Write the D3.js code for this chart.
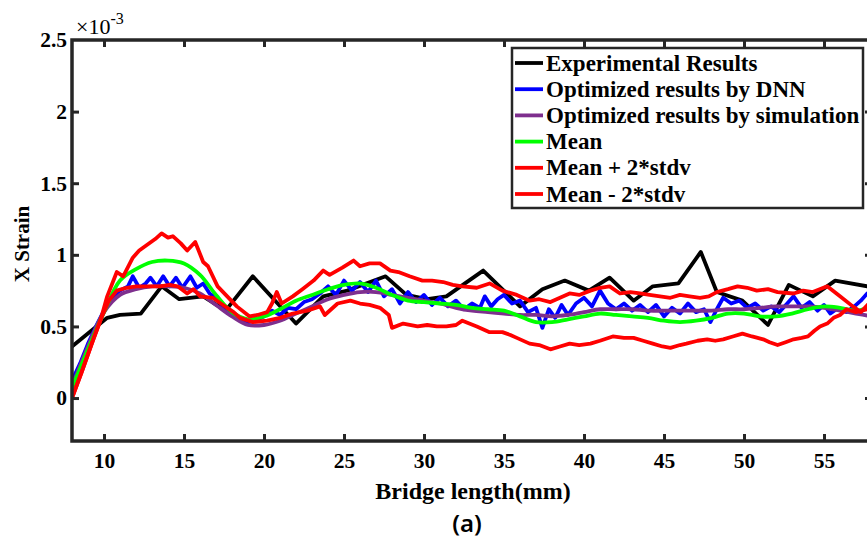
<!DOCTYPE html>
<html>
<head>
<meta charset="utf-8">
<script src="https://cdn.jsdelivr.net/npm/d3@7"></script>
<style>
  html, body { margin: 0; padding: 0; background: #fff; }
  svg { display: block; }
  text { font-family: "Liberation Serif", "Times New Roman", serif; font-weight: bold; fill: #000; }
</style>
</head>
<body>
<svg id="chart" width="867" height="538"></svg>
<script>
// ---- data (strain values in units of 1e-3, position in mm) ----
const xTicks = [10, 15, 20, 25, 30, 35, 40, 45, 50, 55];
const yTicks = [0, 0.5, 1, 1.5, 2, 2.5];
const yTickLabels = ["0", "0.5", "1", "1.5", "2", "2.5"];

const seriesNames = [
  "Experimental Results",
  "Optimized results by DNN",
  "Optimized results by simulation",
  "Mean",
  "Mean + 2*stdv",
  "Mean - 2*stdv"
];
const seriesColors = ["#000000", "#0000ff", "#7e2f8e", "#00ff00", "#ff0000", "#ff0000"];

const expX = [8, 10.2, 11, 12.3, 13.6, 14.7, 16.2, 17.6, 19.3, 22.0, 23.7, 25.2, 27.6, 28.9, 30.2, 31.4, 33.7,
  36.0, 37.4, 38.8, 40.3, 41.6, 43.1, 44.3, 45.9, 47.3, 48.3, 49.9, 51.5, 52.8, 54.3, 55.7, 57.7, 58];
const expStrain = [0.36, 0.56, 0.58, 0.59, 0.78, 0.69, 0.71, 0.61, 0.85, 0.52, 0.71, 0.75, 0.85, 0.72, 0.69, 0.71, 0.89,
  0.64, 0.76, 0.82, 0.75, 0.84, 0.68, 0.78, 0.80, 1.02, 0.74, 0.68, 0.51, 0.79, 0.71, 0.82, 0.78, 0.77];

const dnnX = [8, 8.5, 9, 9.5, 10, 10.5, 11, 11.5, 11.8, 12.2, 12.6, 12.9, 13.3, 13.7, 14.1, 14.5, 14.9, 15.4, 15.8,
  16.2, 16.6, 17.0, 17.5, 18.0, 18.5, 19.0, 19.5, 20.0, 20.5, 21.0, 21.5, 22.0, 22.5, 23.0, 23.5, 24.0, 24.5,
  25.0, 25.5, 26.0, 26.5, 27.0, 27.5, 28.0, 28.5, 29.0, 29.5, 30.0, 30.5, 31.0, 31.5, 32.0, 32.5, 33.0, 33.5,
  33.8, 34.2, 34.6, 35.0, 35.5, 36.0, 36.5, 37.0, 37.4, 37.8, 38.2, 38.6, 39.0, 39.5, 40.0, 40.5, 41.0, 41.5,
  42.0, 42.5, 43.0, 43.5, 44.0, 44.5, 45.0, 45.5, 46.0, 46.5, 47.0, 47.5, 47.9, 48.3, 48.7, 49.2, 49.7, 50.2,
  50.7, 51.2, 51.7, 52.2, 52.7, 53.1, 53.6, 54.1, 54.6, 55.0, 55.4, 55.9, 56.4, 56.9, 57.3, 57.7, 58.0];
const dnnStrain = [0.12, 0.24, 0.38, 0.50, 0.61, 0.70, 0.75, 0.78, 0.85, 0.77, 0.80, 0.84, 0.78, 0.85, 0.78, 0.84, 0.77, 0.85, 0.77,
  0.80, 0.73, 0.70, 0.63, 0.58, 0.55, 0.53, 0.54, 0.57, 0.61, 0.58, 0.63, 0.62, 0.67, 0.69, 0.73, 0.78, 0.72,
  0.82, 0.75, 0.81, 0.74, 0.82, 0.71, 0.76, 0.66, 0.74, 0.67, 0.72, 0.65, 0.70, 0.64, 0.68, 0.62, 0.66, 0.63,
  0.71, 0.64, 0.69, 0.72, 0.66, 0.68, 0.60, 0.63, 0.49, 0.62, 0.56, 0.65, 0.58, 0.66, 0.70, 0.64, 0.75, 0.66,
  0.62, 0.66, 0.61, 0.65, 0.60, 0.65, 0.57, 0.63, 0.59, 0.66, 0.60, 0.62, 0.53, 0.62, 0.70, 0.66, 0.68, 0.63,
  0.66, 0.61, 0.64, 0.60, 0.66, 0.71, 0.63, 0.67, 0.61, 0.65, 0.59, 0.63, 0.60, 0.64, 0.68, 0.73, 0.70];

const gridX = [8, 9, 10, 11, 12, 13, 14, 15, 16, 17, 18, 19, 20, 21, 22, 23, 24, 25, 26, 27, 28, 29, 30, 31, 32, 33,
  34, 35, 36, 37, 38, 39, 40, 41, 42, 43, 44, 45, 46, 47, 48, 49, 50, 51, 52, 53, 54, 55, 56, 57, 58];
const simStrain = [0.08, 0.36, 0.60, 0.72, 0.76, 0.78, 0.78, 0.77, 0.73, 0.65, 0.57, 0.51, 0.51, 0.54, 0.59, 0.64, 0.69,
  0.72, 0.74, 0.74, 0.72, 0.70, 0.68, 0.66, 0.63, 0.61, 0.60, 0.59, 0.58, 0.58, 0.57, 0.58, 0.60, 0.62, 0.62,
  0.62, 0.61, 0.61, 0.61, 0.61, 0.61, 0.62, 0.62, 0.63, 0.64, 0.64, 0.64, 0.63, 0.61, 0.59, 0.57];
const meanStrain = [0.07, 0.34, 0.60, 0.82, 0.90, 0.95, 0.96, 0.94, 0.86, 0.72, 0.60, 0.55, 0.57, 0.62, 0.68, 0.72, 0.76,
  0.79, 0.80, 0.77, 0.72, 0.68, 0.67, 0.66, 0.65, 0.63, 0.62, 0.61, 0.57, 0.53, 0.53, 0.55, 0.57, 0.59, 0.58,
  0.57, 0.56, 0.54, 0.53, 0.54, 0.56, 0.59, 0.59, 0.57, 0.57, 0.59, 0.62, 0.64, 0.63, 0.61, 0.64];

const upperX = [8, 8.6, 9.3, 9.8, 10.2, 10.8, 11.2, 11.8, 12.2, 12.7, 13.2, 13.6, 14.0, 14.3, 14.8, 15.2, 15.7, 16.2,
  16.5, 17.1, 17.7, 18.3, 19.1, 19.6, 20.2, 20.5, 20.8, 21.1, 21.8, 22.4, 23.1, 23.7, 24.1, 24.9, 25.6, 26.0,
  26.6, 27.25, 27.9, 28.4, 29.1, 29.9, 30.5, 31.2, 31.8, 32.4, 33.3, 34.1, 34.9, 35.8, 36.6, 37.2, 37.9, 38.5,
  39.1, 39.7, 40.4, 41.0, 41.6, 42.25, 42.9, 43.5, 44.1, 44.75, 45.4, 46.0, 46.6, 47.25, 47.8, 48.3, 49.0,
  49.6, 50.2, 50.8, 51.5, 52.1, 53.1, 53.7, 54.3, 55.2, 56.0, 56.8, 57.3, 57.8, 58];
const upperStrain = [0, 0.18, 0.40, 0.55, 0.71, 0.88, 0.85, 0.98, 1.03, 1.07, 1.11, 1.15, 1.12, 1.13, 1.08, 1.03, 1.09, 0.95,
  0.92, 0.78, 0.71, 0.64, 0.57, 0.58, 0.60, 0.66, 0.74, 0.66, 0.71, 0.76, 0.82, 0.89, 0.86, 0.91, 0.96, 0.92,
  0.94, 0.94, 0.89, 0.88, 0.85, 0.82, 0.82, 0.81, 0.79, 0.78, 0.77, 0.80, 0.75, 0.72, 0.68, 0.69, 0.67, 0.70,
  0.73, 0.72, 0.75, 0.77, 0.78, 0.73, 0.74, 0.73, 0.72, 0.71, 0.70, 0.72, 0.71, 0.70, 0.71, 0.74, 0.76,
  0.78, 0.77, 0.75, 0.76, 0.74, 0.73, 0.75, 0.74, 0.78, 0.71, 0.64, 0.60, 0.66, 0.68];

const lowerX = [8, 8.6, 9.3, 9.8, 10.3, 10.8, 11.4, 12.0, 12.8, 13.5, 14.1, 14.6, 15.2, 15.6, 16.0, 16.8, 17.3, 17.7,
  18.1, 18.5, 19.3, 20.2, 21.0, 21.8, 22.7, 23.5, 23.8, 24.6, 25.4, 26.0, 26.6, 27.25, 27.8, 28.0, 28.7, 29.6,
  30.2, 30.8, 31.4, 32.0, 32.4, 33.3, 34.1, 34.9, 35.4, 35.8, 36.6, 37.2, 37.9, 38.5, 39.1, 39.7, 40.4, 41.0,
  41.8, 42.5, 43.1, 43.7, 44.3, 44.9, 45.4, 46.0, 46.4, 47.1, 47.7, 48.2, 48.7, 49.3, 49.9, 50.5, 51.2, 51.6,
  52.1, 52.6, 53.1, 53.6, 54.0, 54.4, 54.75, 55.2, 55.6, 56.0, 56.4, 57.0, 57.7, 58];
const lowerStrain = [0, 0.18, 0.40, 0.55, 0.68, 0.75, 0.77, 0.78, 0.78, 0.78, 0.79, 0.78, 0.73, 0.76, 0.71, 0.70, 0.66, 0.63,
  0.60, 0.56, 0.53, 0.54, 0.56, 0.59, 0.61, 0.64, 0.58, 0.66, 0.68, 0.66, 0.65, 0.63, 0.58, 0.49, 0.52, 0.50,
  0.51, 0.50, 0.50, 0.51, 0.54, 0.50, 0.46, 0.46, 0.44, 0.42, 0.38, 0.37, 0.34, 0.36, 0.38, 0.37, 0.38, 0.40,
  0.43, 0.42, 0.42, 0.40, 0.38, 0.36, 0.35, 0.37, 0.38, 0.40, 0.41, 0.40, 0.41, 0.43, 0.45, 0.43, 0.41, 0.39,
  0.37, 0.39, 0.41, 0.42, 0.43, 0.47, 0.50, 0.52, 0.56, 0.58, 0.62, 0.60, 0.62, 0.64];

// ---- layout ----
const svg = d3.select("#chart");
const x = d3.scaleLinear().domain([8, 58]).range([72, 872]);
const y = d3.scaleLinear().domain([-0.3, 2.5]).range([441, 40]);
const axisColor = "#262626";
const serif = '"Liberation Serif", "Times New Roman", serif';

svg.append("defs").append("clipPath").attr("id", "plot-clip")
  .append("rect").attr("x", 72).attr("y", 40).attr("width", 800).attr("height", 401);

// ---- series lines (drawn in legend order) ----
const series = [
  { xs: expX, ys: expStrain, curve: d3.curveLinear },
  { xs: dnnX, ys: dnnStrain, curve: d3.curveLinear },
  { xs: gridX, ys: simStrain, curve: d3.curveCatmullRom },
  { xs: gridX, ys: meanStrain, curve: d3.curveCatmullRom },
  { xs: upperX, ys: upperStrain, curve: d3.curveLinear },
  { xs: lowerX, ys: lowerStrain, curve: d3.curveLinear }
];

const plot = svg.append("g").attr("clip-path", "url(#plot-clip)");
series.forEach((s, i) => {
  const pts = s.xs.map((xv, k) => [xv, s.ys[k]]);
  const line = d3.line().x(d => x(d[0])).y(d => y(d[1])).curve(s.curve);
  plot.append("path")
    .attr("d", line(pts))
    .attr("fill", "none")
    .attr("stroke", seriesColors[i])
    .attr("stroke-width", 3.8)
    .attr("stroke-linejoin", "round")
    .attr("stroke-linecap", "round");
});

// ---- axes (ticks point inward, box style) ----
function styleAxis(g) {
  g.select(".domain").remove();
  g.selectAll(".tick line").attr("stroke", axisColor).attr("stroke-width", 3);
  g.selectAll(".tick text")
    .attr("fill", "#000")
    .style("font-family", serif)
    .style("font-weight", "bold")
    .style("font-size", "21.5px");
}

svg.append("g")
  .attr("transform", "translate(0,441)")
  .call(d3.axisBottom(x).tickValues(xTicks).tickFormat(d3.format("d")).tickSize(-7).tickPadding(12))
  .call(styleAxis);

svg.append("g")
  .attr("transform", "translate(0,40)")
  .call(d3.axisTop(x).tickValues(xTicks).tickFormat("").tickSize(-7))
  .call(styleAxis);

svg.append("g")
  .attr("transform", "translate(72,0)")
  .call(d3.axisLeft(y).tickValues(yTicks).tickFormat((d, i) => yTickLabels[i]).tickSize(-7).tickPadding(5))
  .call(styleAxis);

svg.append("g")
  .attr("transform", "translate(872,0)")
  .call(d3.axisRight(y).tickValues(yTicks).tickFormat("").tickSize(-7))
  .call(styleAxis);

// no tick marks on the box corners
svg.selectAll(".tick").filter(d => d === 2.5).select("line").remove();

// axis box
svg.append("rect")
  .attr("x", 72).attr("y", 40).attr("width", 800).attr("height", 401)
  .attr("fill", "none").attr("stroke", axisColor).attr("stroke-width", 3.5);

// exponent marker
const expo = svg.append("text").attr("x", 76).attr("y", 34)
  .style("font-weight", "normal").style("font-size", "22px");
expo.append("tspan").text("\u00d710");
expo.append("tspan").attr("dy", -10).style("font-size", "16px").text("-3");

// axis titles
svg.append("text")
  .attr("transform", "translate(29,244) rotate(-90)")
  .attr("text-anchor", "middle")
  .style("font-size", "21px")
  .text("X Strain");

svg.append("text")
  .attr("x", 473).attr("y", 499)
  .attr("text-anchor", "middle")
  .style("font-size", "24px")
  .text("Bridge length(mm)");

svg.append("text")
  .attr("x", 467).attr("y", 532)
  .attr("text-anchor", "middle")
  .style("font-family", '"Noto Sans", "DejaVu Sans", sans-serif')
  .style("font-weight", "600")
  .style("font-size", "24px")
  .text("(a)");

// ---- legend ----
const legend = svg.append("g");
legend.append("rect")
  .attr("x", 512).attr("y", 48).attr("width", 351).attr("height", 160)
  .attr("fill", "#fff").attr("stroke", axisColor).attr("stroke-width", 2.5);

const rowY = d3.scaleLinear().domain([0, 5]).range([63, 194]);
seriesNames.forEach((name, i) => {
  const cy = rowY(i);
  legend.append("line")
    .attr("x1", 515).attr("x2", 543).attr("y1", cy).attr("y2", cy)
    .attr("stroke", seriesColors[i]).attr("stroke-width", 3.8);
  legend.append("text")
    .attr("x", 546).attr("y", cy + 7.5)
    .style("font-size", "23px")
    .text(name);
});
</script>
</body>
</html>
